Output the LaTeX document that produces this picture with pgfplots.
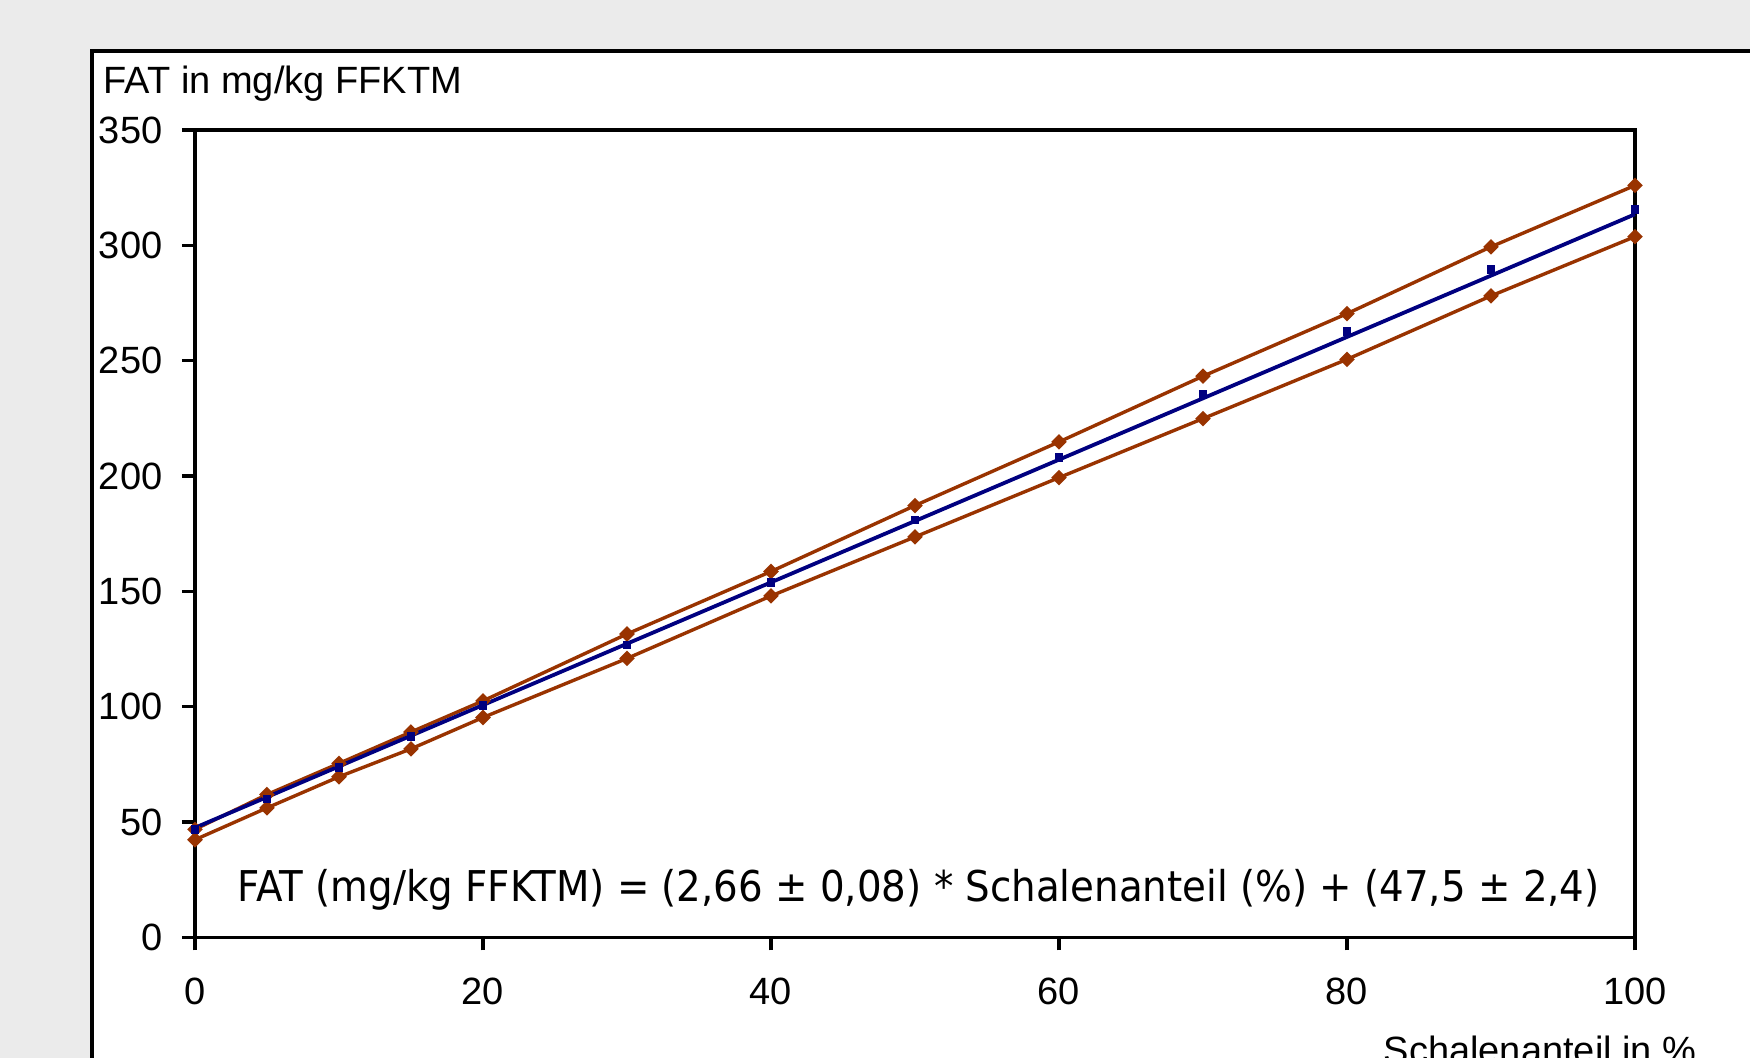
\documentclass[border=0pt]{standalone}
\usepackage{pgfplots}
\pgfplotsset{compat=1.18}
\usepackage{fontspec}
\setmainfont{Liberation Sans}
\newfontfamily\eqfont[FakeStretch=0.914]{DejaVu Sans}
\definecolor{bg}{RGB}{235,235,235}
\definecolor{fitblue}{RGB}{0,0,128}
\definecolor{bandbrown}{RGB}{153,51,0}

\begin{document}
\begin{tikzpicture}
\fill[bg] (-48.75pt,-30.175pt) rectangle (388.75pt,234.325pt);
\fill[white] (-25.75pt,-40pt) rectangle (400pt,221.6pt);
\draw[line width=1pt] (-25.75pt,-40pt) -- (-25.75pt,221.6pt) -- (400pt,221.6pt);
\begin{axis}[
    scale only axis, width=360pt, height=201.8pt,
    xmin=0, xmax=100, ymin=0, ymax=350,
    xtick={0,20,...,100}, ytick={0,50,...,350},
    tick align=outside, tick pos=left, major tick length=3.25pt,
    axis line style={line width=0.85pt},
    tick style={black, line width=0.85pt},
    font=\fontsize{9.5}{11}\selectfont,
    /pgf/number format/assume math mode=true,
    yticklabel style={anchor=east, inner sep=0pt, xshift=-4.7pt},
    xticklabel style={anchor=north, inner sep=0pt, yshift=-6.6pt},
    clip=false,
    xlabel={Schalenanteil in \%},
    ylabel={FAT in mg/kg FFKTM},
    xlabel style={at={(axis description cs:0.825,-0.1564)}, anchor=base west, inner sep=0pt},
    ylabel style={at={(axis description cs:-0.0639,1.0455)}, anchor=base west, rotate=-90, inner sep=0pt},
]
% upper band
\addplot[bandbrown, line width=0.85pt, mark=square*, mark size=0.95pt, mark options={rotate=45}] coordinates {
    (0,46.8) (5,61.9) (10,75.4) (15,89.0) (20,102.5) (30,131.5) (40,158.6)
    (50,187.2) (60,214.8) (70,243.3) (80,270.4) (90,299.4) (100,326.0)
};
% lower band
\addplot[bandbrown, line width=0.85pt, mark=square*, mark size=0.95pt, mark options={rotate=45}] coordinates {
    (0,42.3) (5,56.1) (10,69.6) (15,81.7) (20,95.3) (30,120.9) (40,148.0)
    (50,173.6) (60,199.3) (70,224.9) (80,250.6) (90,278.1) (100,303.8)
};
% regression line
\addplot[fitblue, line width=0.95pt] coordinates {(0,47.5) (100,313.5)};
% measured points
\addplot[only marks, fitblue, mark=square*, mark size=0.9pt] coordinates {
    (0,46.9) (5,60.0) (10,73.5) (15,87.0) (20,100.6) (30,126.7) (40,153.8)
    (50,180.9) (60,208.0) (70,235.6) (80,262.6) (90,289.7) (100,315.4)
};
\node[anchor=base west, inner sep=0pt, font=\eqfont\fontsize{10.6}{12}\selectfont]
    at (axis cs:2.89,15.43) {FAT (mg/kg FFKTM) = (2,66 ± 0,08) * Schalenanteil (\%) + (47,5 ± 2,4)};
\end{axis}
\pgfresetboundingbox
\useasboundingbox (-48.75pt,-30.175pt) rectangle (388.75pt,234.325pt);
\end{tikzpicture}
\end{document}
